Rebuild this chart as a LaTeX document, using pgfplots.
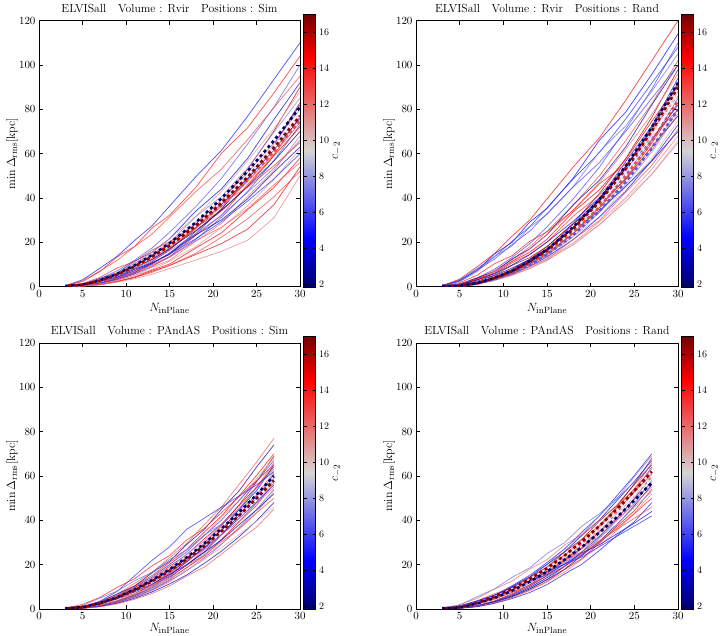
\documentclass[border=0pt]{standalone}
\usepackage{pgfplots}
\pgfplotsset{compat=1.18}

% diverging map used for the concentration c_{-2}
\pgfplotsset{
  colormap={cmtwo}{rgb(0pt)=(0,0,0.42) rgb(18pt)=(0,0,1) rgb(50pt)=(0.83,0.83,0.83) rgb(84pt)=(1,0,0) rgb(100pt)=(0.45,0,0)},
}
\definecolor{mnavy}{rgb}{0,0,0.45}
\definecolor{mdred}{rgb}{0.55,0,0}
\definecolor{mred}{rgb}{0.88,0.3,0.3}
\definecolor{mblue}{rgb}{0.35,0.35,0.85}
\definecolor{mlight}{rgb}{0.93,0.91,0.93}

\pgfplotsset{
  panel/.style={
    scale only axis, width=261pt, height=266pt,
    anchor=south west,
    xmin=0, xmax=30, ymin=0, ymax=120,
    xtick={0,5,...,30}, ytick={0,20,...,120},
    major tick length=4pt,
    axis line style={line width=0.7pt},
    every tick/.style={black, line width=0.6pt},
    tick label style={font=\fontsize{10.5}{12}\selectfont},
    label style={font=\fontsize{13}{15}\selectfont},
    xlabel={$N_{\mathrm{inPlane}}$},
    ylabel={$\min\Delta_{\mathrm{rms}}[\mathrm{kpc}]$},
    xlabel style={at={(axis description cs:0.5,-0.083)}, anchor=center, inner sep=0pt},
    ylabel style={at={(axis description cs:-0.103,0.5)}, anchor=center},
    title style={font=\fontsize{11.7}{13}\selectfont, at={(axis description cs:0.5,1)}, anchor=south, inner sep=2.2pt},
    colormap name=cmtwo,
    point meta min=1.83, point meta max=17,
    colorbar,
    colorbar style={
      scale only axis, width=12pt, height=273pt,
      at={(parent axis.north east)}, anchor=north west, xshift=-5pt, yshift=6.7pt,
      ytick={2,4,...,16},
      major tick length=3pt,
      yticklabel style={font=\fontsize{10}{12}\selectfont},
      ylabel={$c_{-2}$},
      ylabel style={font=\fontsize{13}{15}\selectfont, at={(axis description cs:2.75,0.5)}, anchor=center, inner sep=0pt},
    },
  },
  lowrow/.style={xlabel style={at={(axis description cs:0.5,-0.072)}}},
  halo/.style={mesh, line width=0.7pt, opacity=0.75},
  dmean/.style={line width=2.6pt, dash pattern=on 3pt off 3pt},
}
% one host halo: colour value c_{-2}, then its curve
\newcommand\halo[2]{\addplot[halo, point meta=#1] coordinates {#2};}

\begin{document}
\begin{tikzpicture}
\useasboundingbox (0,0) rectangle (725pt,636pt);

% ---------------- Rvir, Sim ----------------
\begin{axis}[panel, at={(39pt,349.3pt)},
  title={ELVISall\quad Volume : Rvir\quad Positions : Sim}]
\halo{5.0}{(3,.44)(5,3.1)(7,8.3)(9,13.8)(11,20.9)(13,27.5)(15,36.3)(18,49.5)(21,61.6)(24,77)(27,93.5)(30,110)}
\halo{14}{(3,.42)(5,2.3)(7,6.8)(9,13.5)(11,18.2)(13,26.5)(15,32.2)(18,44.7)(21,60.3)(24,71.8)(27,87.4)(30,104)}
\halo{6.5}{(3,.4)(5,1.2)(7,3.6)(9,7.2)(11,12)(13,17.5)(15,24.5)(18,36)(21,49)(24,64.5)(27,81)(30,100)}
\halo{13}{(3,.38)(5,2.7)(7,7.1)(9,11.9)(11,18.1)(13,23.8)(15,31.4)(18,42.8)(21,53.2)(24,66.5)(27,80.8)(30,95)}
\halo{3.5}{(3,.37)(5,.9)(7,3.7)(9,6.3)(11,11.5)(13,15.6)(15,21.6)(18,34)(21,44.2)(24,58)(27,75.4)(30,92)}
\halo{15.5}{(3,.36)(5,.45)(7,1.7)(9,4.1)(11,7.2)(13,11.3)(15,16.7)(18,26.1)(21,38.7)(24,53.1)(27,70.2)(30,90)}
\halo{11}{(3,.35)(5,1.1)(7,3.2)(9,6.3)(11,10.6)(13,15.4)(15,21.6)(18,31.7)(21,43.1)(24,56.8)(27,71.3)(30,88)}
\halo{7.5}{(3,.34)(5,.85)(7,3.4)(9,5.8)(11,10.6)(13,14.5)(15,20)(18,31.5)(21,40.8)(24,53.6)(27,69.7)(30,85)}
\halo{16.5}{(3,.33)(5,.5)(7,1.3)(9,3.5)(11,6.2)(13,10.8)(15,14.5)(18,24.9)(21,34.9)(24,49.8)(27,63.9)(30,83)}
\halo{5}{(3,.33)(5,.41)(7,1.6)(9,3.7)(11,6.6)(13,10.3)(15,15.2)(18,23.8)(21,35.3)(24,48.4)(27,64)(30,82)}
\halo{12}{(3,.32)(5,1)(7,2.9)(9,5.8)(11,9.6)(13,14)(15,19.6)(18,28.8)(21,39.2)(24,51.6)(27,64.8)(30,80)}
\halo{8.5}{(3,.31)(5,.8)(7,3.1)(9,5.3)(11,9.8)(13,13.3)(15,18.3)(18,28.9)(21,37.4)(24,49.1)(27,64)(30,78)}
\halo{14}{(3,.31)(5,.46)(7,1.2)(9,3.2)(11,5.8)(13,10)(15,13.5)(18,23.1)(21,32.3)(24,46.2)(27,59.3)(30,77)}
\halo{4}{(3,.3)(5,.9)(7,2.7)(9,5.5)(11,9.1)(13,13.3)(15,18.6)(18,27.4)(21,37.2)(24,49)(27,61.6)(30,76)}
\halo{10}{(3,.3)(5,.75)(7,3)(9,5.1)(11,9.4)(13,12.8)(15,17.6)(18,27.8)(21,36)(24,47.3)(27,61.5)(30,75)}
\halo{13}{(3,.3)(5,.9)(7,2.7)(9,5.3)(11,8.9)(13,13)(15,18.1)(18,26.6)(21,36.3)(24,47.7)(27,59.9)(30,74)}
\halo{6}{(3,.29)(5,.37)(7,1.4)(9,3.3)(11,5.8)(13,9.1)(15,13.5)(18,21.2)(21,31.4)(24,43.1)(27,56.9)(30,73)}
\halo{15}{(3,.29)(5,.72)(7,2.9)(9,4.9)(11,9)(13,12.2)(15,16.9)(18,26.6)(21,34.6)(24,45.4)(27,59)(30,72)}
\halo{2.5}{(3,.28)(5,.84)(7,2.5)(9,5)(11,8.4)(13,12.3)(15,17.2)(18,25.2)(21,34.3)(24,45.2)(27,56.7)(30,70)}
\halo{12}{(3,.27)(5,.41)(7,1.1)(9,2.9)(11,5.1)(13,8.8)(15,11.9)(18,20.4)(21,28.6)(24,40.8)(27,52.4)(30,68)}
\halo{7}{(3,.26)(5,.8)(7,2.4)(9,4.8)(11,7.9)(13,11.6)(15,16.2)(18,23.8)(21,32.3)(24,42.6)(27,53.5)(30,66)}
\halo{13.5}{(3,.26)(5,1.4)(7,4.2)(9,8.5)(11,11.4)(13,16.6)(15,20.2)(18,28)(21,37.7)(24,44.9)(27,54.6)(30,65)}
\halo{3}{(3,.25)(5,.63)(7,2.5)(9,4.3)(11,7.9)(13,10.7)(15,14.8)(18,23.3)(21,30.2)(24,39.7)(27,51.7)(30,63)}
\halo{11}{(3,.25)(5,.31)(7,1.2)(9,2.8)(11,5)(13,7.8)(15,11.5)(18,18)(21,26.7)(24,36.6)(27,48.4)(30,62)}
\halo{5.5}{(3,.24)(5,.72)(7,2.2)(9,4.3)(11,7.2)(13,10.5)(15,14.7)(18,21.6)(21,29.4)(24,38.7)(27,48.6)(30,60)}
\halo{14.5}{(3,.23)(5,.35)(7,.93)(9,2.4)(11,4.4)(13,7.5)(15,10.2)(18,17.4)(21,24.4)(24,34.8)(27,44.7)(30,58)}
\halo{12.5}{(3,.22)(5,.56)(7,2.2)(9,3.8)(11,7)(13,9.5)(15,13.2)(18,20.7)(21,26.9)(24,35.3)(27,45.9)(30,56)}
\halo{15}{(3,.22)(5,.32)(7,.9)(9,2.3)(11,4.1)(13,7)(15,9.5)(18,14.5)(21,19.5)(24,26)(27,37)(30,54)}
\halo{13}{(3,.21)(5,.26)(7,1)(9,2.3)(11,4.2)(13,6.5)(15,9.6)(18,15.1)(21,22.4)(24,30.7)(27,40.6)(30,52)}
\halo{11.5}{(3,.2)(5,.3)(7,.9)(9,2.1)(11,3.6)(13,5.6)(15,8.2)(18,12)(21,16)(24,21)(27,31)(30,50)}
% median curves
\addplot[dmean, mlight] coordinates {(3,.3)(5,.86)(7,2.7)(9,5.6)(11,9.3)(13,13.7)(15,18.9)(18,27.8)(21,38.4)(24,50.2)(27,63.4)(30,78)};
\addplot[dmean, mnavy] coordinates {(3,.3)(5,.9)(7,2.8)(9,5.8)(11,9.6)(13,14.3)(15,19.6)(18,28.9)(21,39.9)(24,52.2)(27,65.9)(30,81)};
\addplot[dmean, mred, dash phase=3pt] coordinates {(3,.3)(5,.8)(7,2.6)(9,5.4)(11,8.9)(13,13.2)(15,18.2)(18,26.8)(21,36.9)(24,48.3)(27,61)(30,75)};
\addplot[dmean, mdred, dash phase=3pt] coordinates {(3,.3)(5,.85)(7,2.7)(9,5.5)(11,9.2)(13,13.6)(15,18.6)(18,27.5)(21,37.9)(24,49.6)(27,62.6)(30,77)};
\end{axis}

% ---------------- Rvir, Rand ----------------
\begin{axis}[panel, at={(416pt,349.3pt)}, width=262pt,
  title={ELVISall\quad Volume : Rvir\quad Positions : Rand}]
\halo{14.5}{(3,.48)(5,3.4)(7,9)(9,15)(11,22.8)(13,30)(15,39.6)(18,54)(21,67.2)(24,84)(27,102)(30,120)}
\halo{4.5}{(3,.46)(5,2.5)(7,7.4)(9,14.8)(11,20)(13,29.1)(15,35.3)(18,49)(21,66.1)(24,78.7)(27,95.8)(30,114)}
\halo{6}{(3,.44)(5,1.3)(7,4)(9,7.9)(11,13.2)(13,19.3)(15,27)(18,39.6)(21,53.9)(24,71)(27,89.1)(30,110)}
\halo{5.5}{(3,.43)(5,3)(7,8.1)(9,13.5)(11,20.5)(13,27)(15,35.6)(18,48.6)(21,60.5)(24,75.6)(27,91.8)(30,108)}
\halo{7}{(3,.42)(5,2.3)(7,6.8)(9,13.7)(11,18.4)(13,26.8)(15,32.6)(18,45.2)(21,60.9)(24,72.5)(27,88.2)(30,105)}
\halo{13}{(3,.41)(5,1.2)(7,3.7)(9,7.3)(11,12.2)(13,17.9)(15,25)(18,36.7)(21,50)(24,65.8)(27,82.6)(30,102)}
\halo{3}{(3,.4)(5,1)(7,4)(9,6.8)(11,12.5)(13,17)(15,23.5)(18,37)(21,48)(24,63)(27,82)(30,100)}
\halo{16}{(3,.39)(5,.49)(7,1.9)(9,4.4)(11,7.8)(13,12.3)(15,18.1)(18,28.4)(21,42.1)(24,57.8)(27,76.4)(30,98)}
\halo{12}{(3,.38)(5,1.2)(7,3.5)(9,6.9)(11,11.5)(13,16.8)(15,23.5)(18,34.6)(21,47)(24,61.9)(27,77.8)(30,96)}
\halo{5}{(3,.38)(5,.56)(7,1.5)(9,3.9)(11,7.1)(13,12.2)(15,16.5)(18,28.2)(21,39.5)(24,56.4)(27,72.4)(30,94)}
\halo{2.5}{(3,.37)(5,.46)(7,1.7)(9,4.1)(11,7.4)(13,11.5)(15,17)(18,26.7)(21,39.6)(24,54.3)(27,71.8)(30,92)}
\halo{15}{(3,.36)(5,.91)(7,3.6)(9,6.2)(11,11.4)(13,15.5)(15,21.4)(18,33.7)(21,43.7)(24,57.3)(27,74.6)(30,91)}
\halo{11}{(3,.36)(5,.54)(7,1.4)(9,3.8)(11,6.8)(13,11.7)(15,15.8)(18,27)(21,37.8)(24,54)(27,69.3)(30,90)}
\halo{8}{(3,.35)(5,.44)(7,1.7)(9,4)(11,7)(13,11)(15,16.3)(18,25.5)(21,37.8)(24,51.9)(27,68.6)(30,88)}
\halo{13.5}{(3,.34)(5,.86)(7,3.4)(9,5.8)(11,10.8)(13,14.6)(15,20.2)(18,31.8)(21,41.3)(24,54.2)(27,70.5)(30,86)}
\halo{6.5}{(3,.34)(5,.51)(7,1.4)(9,3.6)(11,6.4)(13,11.1)(15,14.9)(18,25.5)(21,35.7)(24,51)(27,65.5)(30,85)}
\halo{14}{(3,.33)(5,.42)(7,1.6)(9,3.7)(11,6.6)(13,10.4)(15,15.4)(18,24.1)(21,35.7)(24,49)(27,64.7)(30,83)}
\halo{4}{(3,.33)(5,1)(7,3)(9,5.9)(11,9.8)(13,14.4)(15,20.1)(18,29.5)(21,40.2)(24,52.9)(27,66.4)(30,82)}
\halo{12.5}{(3,.32)(5,.48)(7,1.3)(9,3.4)(11,6)(13,10.4)(15,14)(18,24)(21,33.6)(24,48)(27,61.6)(30,80)}
\halo{7.5}{(3,.31)(5,.39)(7,1.5)(9,3.5)(11,6.2)(13,9.8)(15,14.4)(18,22.6)(21,33.5)(24,46)(27,60.8)(30,78)}
\halo{16.5}{(3,.31)(5,.77)(7,3.1)(9,5.2)(11,9.6)(13,13.1)(15,18.1)(18,28.5)(21,37)(24,48.5)(27,63.1)(30,77)}
\halo{10.5}{(3,.3)(5,.45)(7,1.2)(9,3.2)(11,5.6)(13,9.8)(15,13.1)(18,22.5)(21,31.5)(24,45)(27,57.8)(30,75)}
\halo{5}{(3,.29)(5,.37)(7,1.4)(9,3.3)(11,5.8)(13,9.1)(15,13.5)(18,21.2)(21,31.4)(24,43.1)(27,56.9)(30,73)}
\halo{13}{(3,.28)(5,.43)(7,1.1)(9,3)(11,5.3)(13,9.2)(15,12.4)(18,21.3)(21,29.8)(24,42.6)(27,54.7)(30,71)}
\halo{3.5}{(3,.28)(5,.84)(7,2.5)(9,5)(11,8.4)(13,12.3)(15,17.2)(18,25.2)(21,34.3)(24,45.2)(27,56.7)(30,70)}
\halo{11.5}{(3,.27)(5,.34)(7,1.3)(9,3.1)(11,5.4)(13,8.5)(15,12.6)(18,19.7)(21,29.2)(24,40.1)(27,53)(30,68)}
\halo{9}{(3,.26)(5,.4)(7,1.1)(9,2.8)(11,5)(13,8.6)(15,11.6)(18,19.8)(21,27.7)(24,39.6)(27,50.8)(30,66)}
\halo{12}{(3,.26)(5,.33)(7,1.2)(9,2.9)(11,5.2)(13,8.1)(15,12)(18,18.9)(21,28)(24,38.4)(27,50.7)(30,65)}
\halo{6}{(3,.4)(5,2.8)(7,7.5)(9,12.5)(11,19)(13,25)(15,33)(18,45)(21,56)(24,70)(27,85)(30,100)}
\halo{14}{(3,.32)(5,1.8)(7,5.2)(9,10.4)(11,14)(13,20.4)(15,24.8)(18,34.4)(21,46.4)(24,55.2)(27,67.2)(30,80)}
% median curves
\addplot[dmean, mlight] coordinates {(3,.3)(5,.35)(7,1.6)(9,3.7)(11,6.8)(13,10.8)(15,15.8)(18,25.3)(21,37.1)(24,51.3)(27,67.9)(30,87)};
\addplot[dmean, mblue] coordinates {(3,.3)(5,.32)(7,1.4)(9,3.4)(11,6.2)(13,9.9)(15,14.6)(18,23.3)(21,34.2)(24,47.2)(27,62.5)(30,80)};
\addplot[dmean, mred, dash phase=3pt] coordinates {(3,.3)(5,.34)(7,1.5)(9,3.6)(11,6.6)(13,10.4)(15,15.3)(18,24.4)(21,35.9)(24,49.6)(27,65.6)(30,84)};
\addplot[dmean, mnavy] coordinates {(3,.3)(5,.37)(7,1.7)(9,4)(11,7.2)(13,11.4)(15,16.7)(18,26.8)(21,39.3)(24,54.3)(27,71.9)(30,92)};
\addplot[dmean, mdred, dash phase=3pt] coordinates {(3,.3)(5,.36)(7,1.6)(9,3.9)(11,7)(13,11.2)(15,16.4)(18,26.2)(21,38.4)(24,53.1)(27,70.3)(30,90)};
\end{axis}

% ---------------- PAndAS, Sim ----------------
\begin{axis}[panel, lowrow, at={(39pt,27pt)},
  title={ELVISall\quad Volume : PAndAS\quad Positions : Sim}]
\halo{12.5}{(3,.39)(5,1.1)(7,3.5)(9,6.8)(11,11.6)(13,16.6)(15,23.1)(17,29.6)(19,38.1)(21,46.2)(23,56.2)(25,66.2)(27,77)}
\halo{2.5}{(3,.37)(5,.89)(7,3.1)(9,6.8)(11,10.4)(13,16.3)(15,21.5)(17,29.2)(19,35.9)(21,45.1)(23,53.3)(25,64)(27,74)}
\halo{14.5}{(3,.35)(5,.98)(7,3.2)(9,6.2)(11,10.5)(13,15.1)(15,21)(17,27)(19,34.7)(21,42)(23,51.1)(25,60.2)(27,70)}
\halo{16}{(3,.35)(5,.41)(7,1.7)(9,3.8)(11,6.9)(13,11)(15,16.2)(17,22.1)(19,29.7)(21,37.6)(23,46.9)(25,57.3)(27,69)}
\halo{11}{(3,.34)(5,.82)(7,2.9)(9,6.3)(11,9.5)(13,15)(15,19.7)(17,26.9)(19,33)(21,41.5)(23,49)(25,58.8)(27,68)}
\halo{6}{(3,.34)(5,.94)(7,3)(9,5.9)(11,10.1)(13,14.4)(15,20.1)(17,25.8)(19,33.2)(21,40.2)(23,48.9)(25,57.6)(27,67)}
\halo{13}{(3,.33)(5,.4)(7,1.6)(9,3.6)(11,6.6)(13,10.6)(15,15.5)(17,21.1)(19,28.4)(21,36)(23,44.9)(25,54.8)(27,66)}
\halo{4.5}{(3,.33)(5,.46)(7,1.4)(9,3.4)(11,6.3)(13,10.1)(15,15)(17,21.5)(19,27.3)(21,35.8)(23,44.9)(25,53.3)(27,65)}
\halo{15}{(3,.32)(5,.9)(7,2.9)(9,5.6)(11,9.6)(13,13.8)(15,19.2)(17,24.6)(19,31.7)(21,38.4)(23,46.7)(25,55)(27,64)}
\halo{7.5}{(3,.32)(5,.76)(7,2.6)(9,5.8)(11,8.8)(13,13.9)(15,18.3)(17,24.9)(19,30.6)(21,38.4)(23,45.4)(25,54.5)(27,63)}
\halo{12}{(3,.31)(5,.37)(7,1.5)(9,3.4)(11,6.2)(13,9.9)(15,14.6)(17,19.8)(19,26.7)(21,33.8)(23,42.2)(25,51.5)(27,62)}
\halo{3.5}{(3,.31)(5,.43)(7,1.3)(9,3.2)(11,5.9)(13,9.5)(15,14)(17,20.1)(19,25.6)(21,33.6)(23,42.1)(25,50)(27,61)}
\halo{5.5}{(3,.3)(5,.9)(7,3.5)(9,8)(11,15)(13,22)(15,28)(17,36)(19,41)(21,46)(23,51)(25,56)(27,62)}
\halo{10}{(3,.3)(5,.84)(7,2.7)(9,5.3)(11,9)(13,12.9)(15,18)(17,23.1)(19,29.7)(21,36)(23,43.8)(25,51.6)(27,60)}
\halo{13.5}{(3,.3)(5,.71)(7,2.5)(9,5.4)(11,8.3)(13,13)(15,17.1)(17,23.3)(19,28.6)(21,36)(23,42.5)(25,51)(27,59)}
\halo{8}{(3,.29)(5,.35)(7,1.4)(9,3.2)(11,5.8)(13,9.3)(15,13.6)(17,18.6)(19,24.9)(21,31.6)(23,39.4)(25,48.1)(27,58)}
\halo{14}{(3,.29)(5,.4)(7,1.2)(9,3)(11,5.5)(13,8.8)(15,13.1)(17,18.8)(19,23.9)(21,31.4)(23,39.3)(25,46.7)(27,57)}
\halo{5}{(3,.28)(5,.78)(7,2.5)(9,4.9)(11,8.4)(13,12)(15,16.8)(17,21.6)(19,27.7)(21,33.6)(23,40.9)(25,48.2)(27,56)}
\halo{12}{(3,.28)(5,.66)(7,2.3)(9,5.1)(11,7.7)(13,12.1)(15,16)(17,21.7)(19,26.7)(21,33.6)(23,39.6)(25,47.6)(27,55)}
\halo{6.5}{(3,.27)(5,.32)(7,1.3)(9,3)(11,5.4)(13,8.6)(15,12.7)(17,17.3)(19,23.2)(21,29.4)(23,36.7)(25,44.8)(27,54)}
\halo{11.5}{(3,.27)(5,.37)(7,1.1)(9,2.8)(11,5.1)(13,8.2)(15,12.2)(17,17.5)(19,22.3)(21,29.2)(23,36.6)(25,43.5)(27,53)}
\halo{3}{(3,.26)(5,.73)(7,2.3)(9,4.6)(11,7.8)(13,11.2)(15,15.6)(17,20)(19,25.7)(21,31.2)(23,38)(25,44.7)(27,52)}
\halo{13}{(3,.25)(5,.6)(7,2.1)(9,4.6)(11,7)(13,11)(15,14.5)(17,19.8)(19,24.3)(21,30.5)(23,36)(25,43.3)(27,50)}
\halo{4}{(3,.24)(5,.29)(7,1.2)(9,2.6)(11,4.8)(13,7.7)(15,11.3)(17,15.4)(19,20.6)(21,26.2)(23,32.6)(25,39.8)(27,48)}
\halo{10.5}{(3,.23)(5,.64)(7,2.1)(9,4)(11,6.9)(13,9.9)(15,13.8)(17,17.7)(19,22.8)(21,27.6)(23,33.6)(25,39.6)(27,46)}
\halo{12.5}{(3,.23)(5,.32)(7,.95)(9,2.3)(11,4.4)(13,7)(15,10.4)(17,14.9)(19,18.9)(21,24.8)(23,31.1)(25,36.9)(27,45)}
\halo{14}{(3,.33)(5,2.1)(7,5.2)(9,9.8)(11,13.7)(13,19.5)(15,24.1)(17,31.2)(19,36.4)(21,43.6)(23,50.7)(25,57.9)(27,65)}
\halo{7}{(3,.29)(5,1.6)(7,4.9)(9,8.1)(11,12.8)(13,16.5)(15,22.3)(17,26.7)(19,33.4)(21,38.3)(23,44.7)(25,51)(27,58)}
% median curves
\addplot[dmean, mlight] coordinates {(3,.3)(5,.77)(7,2.5)(9,5.2)(11,8.6)(13,12.7)(15,17.5)(17,23)(19,29)(21,35.7)(23,42.9)(25,50.7)(27,59)};
\addplot[dmean, mnavy] coordinates {(3,.3)(5,.8)(7,2.6)(9,5.3)(11,8.8)(13,13)(15,17.8)(17,23.3)(19,29.5)(21,36.3)(23,43.6)(25,51.5)(27,60)};
\addplot[dmean, mdred, dash phase=3pt] coordinates {(3,.3)(5,.75)(7,2.5)(9,5.1)(11,8.5)(13,12.5)(15,17.2)(17,22.6)(19,28.5)(21,35.1)(23,42.2)(25,49.8)(27,58)};
\end{axis}

% ---------------- PAndAS, Rand ----------------
\begin{axis}[panel, lowrow, at={(416pt,27pt)}, width=262pt,
  title={ELVISall\quad Volume : PAndAS\quad Positions : Rand}]
\halo{5}{(3,.35)(5,.98)(7,3.2)(9,6.2)(11,10.5)(13,15.1)(15,21)(17,27)(19,34.7)(21,42)(23,51.1)(25,60.2)(27,70)}
\halo{7.5}{(3,.35)(5,.83)(7,2.9)(9,6.3)(11,9.7)(13,15.2)(15,20)(17,27.3)(19,33.5)(21,42.1)(23,49.7)(25,59.7)(27,69)}
\halo{15.5}{(3,.34)(5,.41)(7,1.6)(9,3.7)(11,6.8)(13,10.9)(15,16)(17,21.8)(19,29.2)(21,37.1)(23,46.2)(25,56.4)(27,68)}
\halo{4}{(3,.34)(5,.94)(7,3)(9,5.9)(11,10.1)(13,14.4)(15,20.1)(17,25.8)(19,33.2)(21,40.2)(23,48.9)(25,57.6)(27,67)}
\halo{12.5}{(3,.33)(5,.46)(7,1.4)(9,3.4)(11,6.4)(13,10.2)(15,15.2)(17,21.8)(19,27.7)(21,36.3)(23,45.5)(25,54.1)(27,66)}
\halo{16.5}{(3,.33)(5,.78)(7,2.7)(9,6)(11,9.1)(13,14.3)(15,18.9)(17,25.7)(19,31.5)(21,39.7)(23,46.8)(25,56.2)(27,65)}
\halo{6}{(3,.32)(5,.38)(7,1.5)(9,3.5)(11,6.4)(13,10.2)(15,15)(17,20.5)(19,27.5)(21,34.9)(23,43.5)(25,53.1)(27,64)}
\halo{13}{(3,.32)(5,.88)(7,2.8)(9,5.5)(11,9.5)(13,13.5)(15,18.9)(17,24.3)(19,31.2)(21,37.8)(23,46)(25,54.2)(27,63)}
\halo{9}{(3,.31)(5,.43)(7,1.3)(9,3.2)(11,6)(13,9.6)(15,14.3)(17,20.5)(19,26)(21,34.1)(23,42.8)(25,50.8)(27,62)}
\halo{14.5}{(3,.31)(5,.73)(7,2.6)(9,5.6)(11,8.5)(13,13.4)(15,17.7)(17,24.1)(19,29.6)(21,37.2)(23,43.9)(25,52.8)(27,61)}
\halo{3}{(3,.3)(5,.36)(7,1.4)(9,3.3)(11,6)(13,9.6)(15,14.1)(17,19.2)(19,25.8)(21,32.7)(23,40.8)(25,49.8)(27,60)}
\halo{11}{(3,.3)(5,.83)(7,2.7)(9,5.2)(11,8.9)(13,12.7)(15,17.7)(17,22.7)(19,29.2)(21,35.4)(23,43.1)(25,50.7)(27,59)}
\halo{6.5}{(3,.29)(5,.41)(7,1.2)(9,3)(11,5.6)(13,9)(15,13.3)(17,19.1)(19,24.4)(21,31.9)(23,40)(25,47.6)(27,58)}
\halo{13.5}{(3,.29)(5,.68)(7,2.4)(9,5.2)(11,8)(13,12.5)(15,16.5)(17,22.5)(19,27.6)(21,34.8)(23,41)(25,49.3)(27,57)}
\halo{2.5}{(3,.28)(5,.34)(7,1.3)(9,3.1)(11,5.6)(13,9)(15,13.2)(17,17.9)(19,24.1)(21,30.5)(23,38.1)(25,46.5)(27,56)}
\halo{12}{(3,.28)(5,.77)(7,2.5)(9,4.8)(11,8.3)(13,11.8)(15,16.5)(17,21.2)(19,27.2)(21,33)(23,40.2)(25,47.3)(27,55)}
\halo{15}{(3,.27)(5,.38)(7,1.1)(9,2.8)(11,5.2)(13,8.4)(15,12.4)(17,17.8)(19,22.7)(21,29.7)(23,37.3)(25,44.3)(27,54)}
\halo{8}{(3,.27)(5,.64)(7,2.2)(9,4.9)(11,7.4)(13,11.7)(15,15.4)(17,20.9)(19,25.7)(21,32.3)(23,38.2)(25,45.8)(27,53)}
\halo{11.5}{(3,.26)(5,.31)(7,1.2)(9,2.9)(11,5.2)(13,8.3)(15,12.2)(17,16.6)(19,22.4)(21,28.3)(23,35.4)(25,43.2)(27,52)}
\halo{14}{(3,.25)(5,.7)(7,2.3)(9,4.4)(11,7.5)(13,10.8)(15,15)(17,19.3)(19,24.8)(21,30)(23,36.5)(25,43)(27,50)}
\halo{5}{(3,.24)(5,.34)(7,1)(9,2.5)(11,4.7)(13,7.4)(15,11)(17,15.8)(19,20.2)(21,26.4)(23,33.1)(25,39.4)(27,48)}
\halo{13}{(3,.23)(5,1.5)(7,3.7)(9,6.9)(11,9.7)(13,13.8)(15,17)(17,22.1)(19,25.8)(21,30.8)(23,35.9)(25,40.9)(27,46)}
\halo{4.5}{(3,.22)(5,1.2)(7,3.7)(9,6.2)(11,9.7)(13,12.5)(15,16.9)(17,20.2)(19,25.3)(21,29)(23,33.9)(25,38.7)(27,44)}
\halo{5.5}{(3,.21)(5,1.4)(7,3.4)(9,6.3)(11,8.8)(13,12.6)(15,15.5)(17,20.2)(19,23.5)(21,28.1)(23,32.8)(25,37.4)(27,42)}
\halo{7}{(3,.33)(5,1.8)(7,5.5)(9,9.1)(11,14.3)(13,18.5)(15,25)(17,29.9)(19,37.4)(21,42.9)(23,50)(25,57.2)(27,65)}
\halo{12}{(3,.3)(5,2)(7,4.8)(9,9)(11,12.6)(13,18)(15,22.2)(17,28.8)(19,33.6)(21,40.2)(23,46.8)(25,53.4)(27,60)}
% median curves
\addplot[dmean, mlight] coordinates {(3,.3)(5,.78)(7,2.6)(9,5.3)(11,8.8)(13,13)(15,17.8)(17,23.3)(19,29.5)(21,36.3)(23,43.6)(25,51.5)(27,60)};
\addplot[dmean, mnavy] coordinates {(3,.3)(5,.74)(7,2.5)(9,5)(11,8.3)(13,12.3)(15,16.9)(17,22.2)(19,28)(21,34.5)(23,41.4)(25,49)(27,57)};
\addplot[dmean, mdred, dash phase=3pt] coordinates {(3,.3)(5,.81)(7,2.7)(9,5.5)(11,9.1)(13,13.4)(15,18.4)(17,24.1)(19,30.5)(21,37.5)(23,45.1)(25,53.3)(27,62)};
\end{axis}
\end{tikzpicture}
\end{document}
